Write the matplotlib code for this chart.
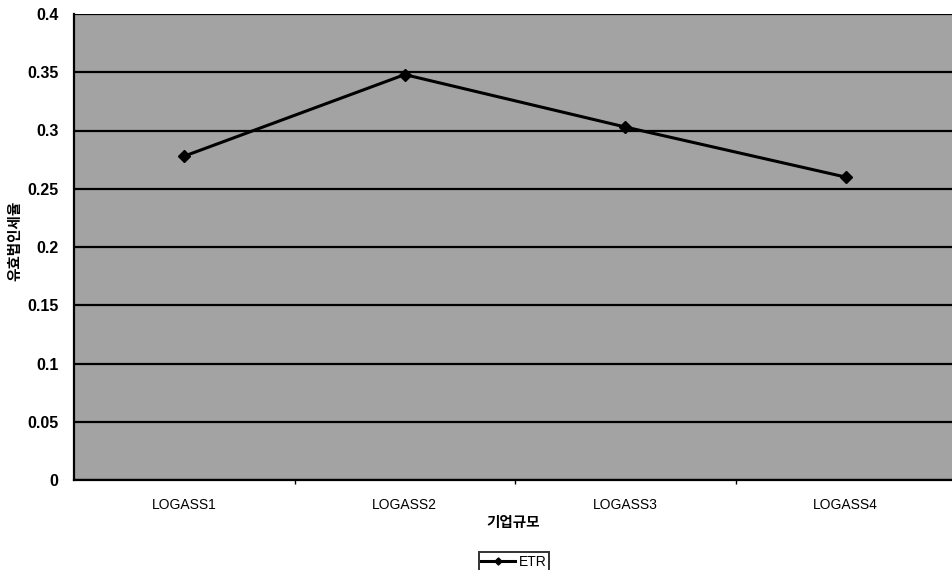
import matplotlib
matplotlib.use("Agg")
import matplotlib.pyplot as plt
from matplotlib.ticker import FixedLocator

# Effective tax rate by firm size group
categories = ["LOGASS1", "LOGASS2", "LOGASS3", "LOGASS4"]
etr = [0.278, 0.348, 0.303, 0.260]
series_name = "ETR"
x_title = "기업규모"
y_title = "유효법인세율"
y_ticks = [0, 0.05, 0.1, 0.15, 0.2, 0.25, 0.3, 0.35, 0.4]
y_tick_labels = ["0", "0.05", "0.1", "0.15", "0.2", "0.25", "0.3", "0.35", "0.4"]

plt.rcParams["font.family"] = ["Liberation Sans", "DejaVu Sans"]

fig = plt.figure(figsize=(9.52, 5.70), dpi=100)
ax = fig.add_axes([74 / 952, 1 - 480 / 570, 882 / 952, 466 / 570])
ax.set_facecolor("#a3a3a3")

x = list(range(len(categories)))
ax.plot(x, etr, color="black", lw=2.2, marker="D", markersize=6,
        markerfacecolor="black", markeredgecolor="black", label=series_name,
        zorder=3)

ax.set_xlim(-0.5, len(categories) - 0.5)
ax.set_ylim(0, 0.4)
ax.set_yticks(y_ticks)
ax.set_yticklabels(y_tick_labels, fontweight="bold")
ax.grid(axis="y", color="black", lw=1.6, zorder=1)
ax.set_axisbelow(True)

ax.set_xticks(x)
ax.set_xticklabels(categories)
ax.xaxis.set_minor_locator(FixedLocator([i + 0.5 for i in range(len(categories) - 1)]))
ax.tick_params(axis="x", which="major", length=0, pad=13, labelsize=10)
ax.tick_params(axis="x", which="minor", length=3, width=1, direction="out")
ax.tick_params(axis="y", length=0, pad=11, labelsize=11.5)

for side in ("top", "right"):
    ax.spines[side].set_visible(False)
ax.spines["left"].set_linewidth(1.6)
ax.spines["bottom"].set_linewidth(1.6)

fig.text(513 / 952, 1 - 522 / 570, x_title, ha="center", va="center",
         fontsize=10.5, fontweight="bold", family=["Noto Sans CJK KR", "DejaVu Sans"])
fig.text(14 / 952, 1 - 241 / 570, y_title, ha="center", va="center",
         rotation=90, fontsize=10.5, fontweight="bold",
         family=["Noto Sans CJK KR", "DejaVu Sans"])

leg = fig.legend(loc="upper center", bbox_to_anchor=(514 / 952, 1 - 545 / 570),
                 frameon=True, fancybox=False, fontsize=10, handlelength=2.4,
                 handletextpad=0.3, borderpad=0.2, markerscale=0.6)
leg.get_frame().set_edgecolor("black")
leg.get_frame().set_linewidth(1.4)

fig.savefig("out.png", dpi=100, facecolor="white")
